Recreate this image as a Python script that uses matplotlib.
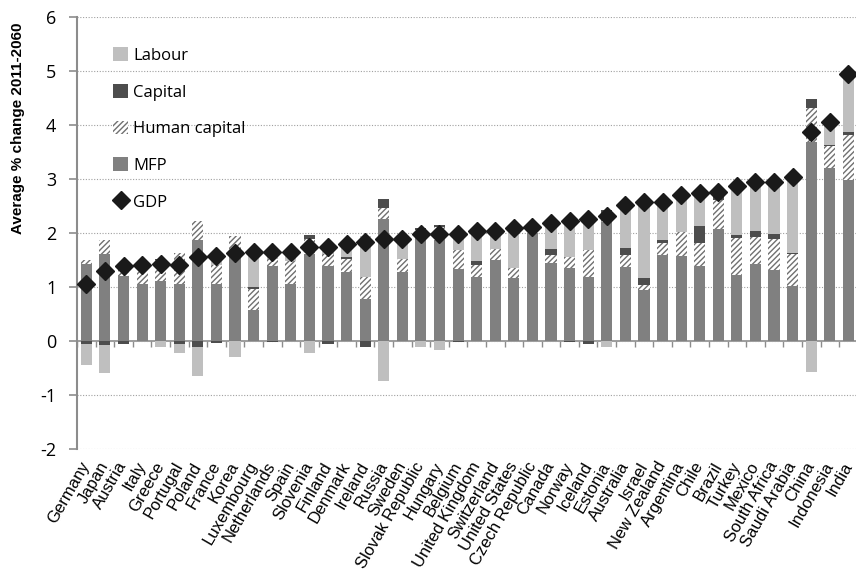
import numpy as np
import matplotlib
matplotlib.use("Agg")
import matplotlib.pyplot as plt

countries = ["Germany", "Japan", "Austria", "Italy", "Greece", "Portugal", "Poland",
             "France", "Korea", "Luxembourg", "Netherlands", "Spain", "Slovenia",
             "Finland", "Denmark", "Ireland", "Russia", "Sweden", "Slovak Republic",
             "Hungary", "Belgium", "United Kingdom", "Switzerland", "United States",
             "Czech Republic", "Canada", "Norway", "Iceland", "Estonia", "Australia",
             "Israel", "New Zealand", "Argentina", "Chile", "Brazil", "Turkey",
             "Mexico", "South Africa", "Saudi Arabia", "China", "Indonesia", "India"]

mfp = [1.43, 1.62, 1.20, 1.06, 1.12, 1.06, 1.88, 1.06, 1.59, 0.57, 1.40, 1.06, 1.62,
       1.40, 1.28, 0.78, 2.27, 1.28, 1.93, 1.87, 1.33, 1.19, 1.51, 1.17, 2.00, 1.45,
       1.35, 1.19, 2.21, 1.38, 0.94, 1.59, 1.57, 1.40, 2.07, 1.23, 1.43, 1.31, 1.03,
       3.69, 3.20, 2.99]
human_capital = [0.08, 0.25, 0.13, 0.35, 0.38, 0.58, 0.34, 0.35, 0.35, 0.39, 0.13, 0.43,
                 0.28, 0.22, 0.25, 0.40, 0.20, 0.25, 0.13, 0.25, 0.35, 0.22, 0.19, 0.18,
                 0.05, 0.14, 0.21, 0.50, 0.08, 0.21, 0.10, 0.23, 0.45, 0.42, 0.54, 0.68,
                 0.50, 0.59, 0.58, 0.62, 0.41, 0.82]
capital = [-0.05, -0.08, -0.05, 0.00, 0.03, -0.05, -0.11, -0.03, 0.00, 0.05, -0.02, 0.00,
           0.06, -0.05, 0.03, -0.11, 0.16, 0.00, 0.03, 0.03, -0.02, 0.08, 0.00, 0.00,
           0.00, 0.11, -0.02, -0.05, 0.14, 0.14, 0.13, 0.05, 0.00, 0.31, 0.05, 0.05,
           0.11, 0.08, 0.03, 0.17, 0.03, 0.07]
labour = [-0.39, -0.51, 0.11, 0.00, -0.11, -0.17, -0.53, 0.17, -0.30, 0.63, 0.12, 0.16,
          -0.22, 0.18, 0.24, 0.77, -0.73, 0.37, -0.11, -0.17, 0.33, 0.55, 0.34, 0.74,
          0.07, 0.48, 0.68, 0.62, -0.11, 0.80, 1.41, 0.71, 0.68, 0.62, 0.11, 0.91,
          0.91, 0.97, 1.40, -0.58, 0.42, 1.06]
gdp = [1.06, 1.30, 1.39, 1.41, 1.42, 1.41, 1.56, 1.57, 1.64, 1.65, 1.65, 1.65, 1.75,
       1.75, 1.80, 1.84, 1.90, 1.90, 1.98, 1.98, 1.99, 2.04, 2.04, 2.09, 2.12, 2.18,
       2.22, 2.26, 2.32, 2.53, 2.58, 2.58, 2.70, 2.75, 2.77, 2.87, 2.95, 2.95, 3.04,
       3.88, 4.06, 4.94]

plt.rcParams["axes.unicode_minus"] = False

x = np.arange(len(countries))
width = 0.6
label_font = "Open Sans"

fig = plt.figure(figsize=(8.56, 5.70), dpi=100)
ax = fig.add_axes([0.09, 0.212, 0.912, 0.758])

# positive parts stack upward from zero, negative parts stack downward
pos_base = np.zeros(len(x))
neg_base = np.zeros(len(x))
styles = [
    ("MFP", mfp, dict(color="#808080")),
    ("Human capital", human_capital, dict(facecolor="white", edgecolor="#707070",
                                          hatch="//////", linewidth=0)),
    ("Capital", capital, dict(color="#4d4d4d")),
    ("Labour", labour, dict(color="#bfbfbf")),
]
handles = {}
for name, vals, kw in styles:
    vals = np.asarray(vals)
    bottom = np.where(vals >= 0, pos_base, neg_base)
    bars = ax.bar(x, vals, width, bottom=bottom, label=name, zorder=2, **kw)
    handles[name] = bars
    pos_base += np.clip(vals, 0, None)
    neg_base += np.clip(vals, None, 0)

gdp_line, = ax.plot(x, gdp, linestyle="none", marker="D", markersize=9,
                    color="#1a1a1a", label="GDP", zorder=3)

ax.set_xlim(-0.5, len(x) - 0.5)
ax.set_ylim(-2, 6)
ax.set_yticks(range(-2, 7))
ax.yaxis.grid(True, linestyle=(0, (1, 1.5)), color="#a0a0a0", linewidth=0.8)
ax.set_axisbelow(True)

for side in ["top", "right", "bottom"]:
    ax.spines[side].set_visible(False)
ax.spines["left"].set_color("#8c8c8c")
ax.spines["left"].set_linewidth(1.5)
ax.tick_params(axis="y", length=6, width=1.2, color="#8c8c8c", labelsize=13, pad=9)
for lab in ax.get_yticklabels():
    lab.set_fontfamily(label_font)

ax.set_xticks(x)
ax.set_xticklabels(countries, rotation=60, ha="right", va="center",
                   rotation_mode="anchor", fontsize=12, family="Liberation Sans")
ax.tick_params(axis="x", length=0, pad=10)

# category axis crossing at zero with boundary ticks
zero_axis = ax.secondary_xaxis(0.25)
zero_axis.set_xticks(np.arange(len(x) + 1) - 0.5)
zero_axis.tick_params(axis="x", length=4, width=1, color="#8c8c8c", labelbottom=False)
zero_axis.spines["bottom"].set_color("#8c8c8c")
zero_axis.spines["bottom"].set_linewidth(1.2)

ax.set_ylabel("Average % change 2011-2060", fontsize=11, fontweight="bold",
              family="Liberation Sans")
ax.yaxis.set_label_coords(-0.067, 0.743)

order = ["Labour", "Capital", "Human capital", "MFP"]
leg = ax.legend([handles[n] for n in order] + [gdp_line], order + ["GDP"],
                loc="upper left", bbox_to_anchor=(0.027, 0.965), frameon=False,
                prop={"family": label_font, "size": 12}, labelspacing=1.2,
                handlelength=0.9, handleheight=0.9, handletextpad=0.3)

fig.savefig("out.png", dpi=100)
